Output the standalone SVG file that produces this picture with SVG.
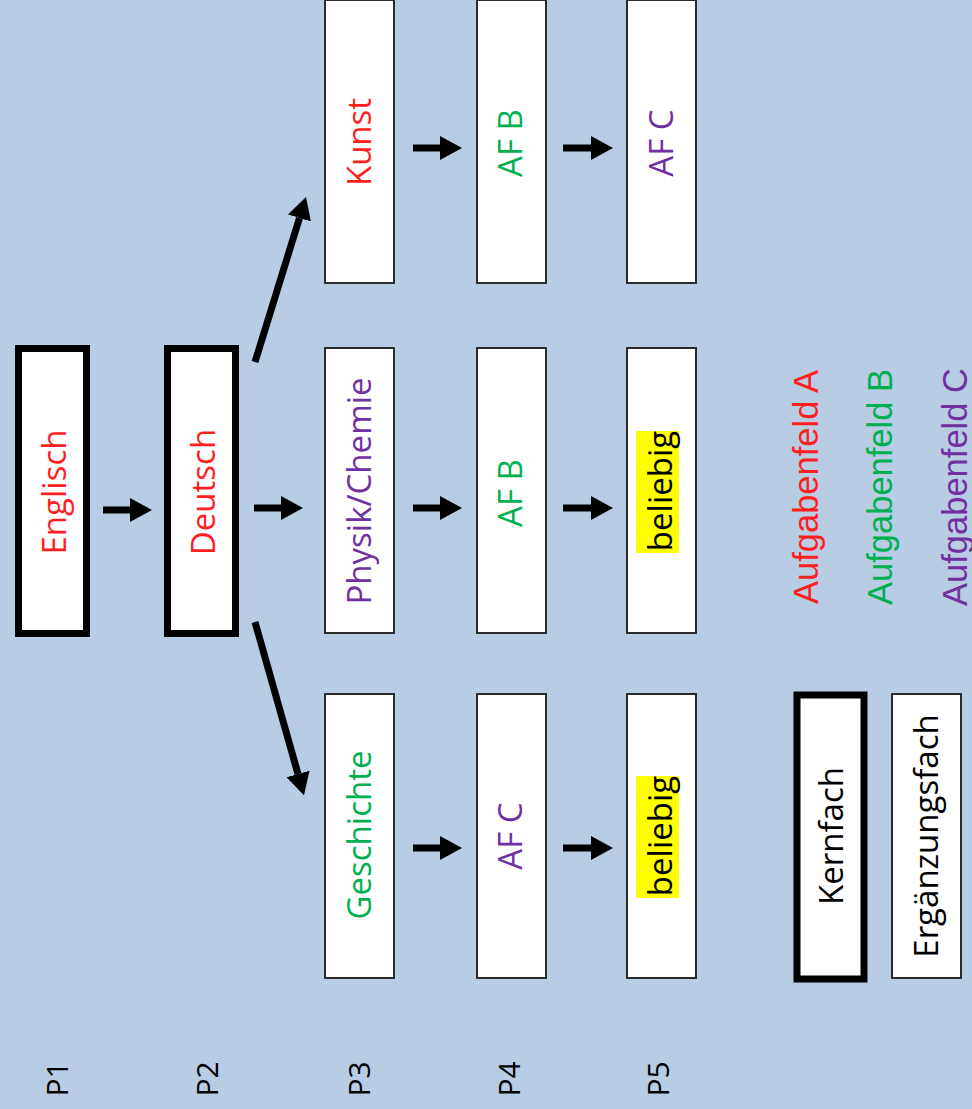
<svg xmlns="http://www.w3.org/2000/svg" width="972" height="1109" viewBox="0 0 972 1109">
<style>
.box{fill:#fff;stroke:#2b2b2b;stroke-width:2}
.kern{fill:#fff;stroke:#000;stroke-width:7}
.t{font-family:"Open Sans","Liberation Sans",sans-serif;font-size:33px;text-anchor:middle;dominant-baseline:central}
.p{font-size:30px}
.lg{font-family:"Liberation Sans",Arial,sans-serif;font-size:34.5px}
.red{fill:#ff1f1f}.grn{fill:#00b050}.pur{fill:#7030a0}.blk{fill:#000}
.conn line{stroke:#000;stroke-width:7;marker-end:url(#ah)}
.hl{fill:#ffff00}
</style>
<defs>
<marker id="ah" viewBox="0 0 22 24" refX="0" refY="12" markerWidth="22" markerHeight="24" markerUnits="userSpaceOnUse" orient="auto"><path d="M0,0 L22,12 L0,24 z" fill="#000"/></marker>
</defs>
<rect width="972" height="1109" fill="#b8cce4"/>
<g id="englisch"><rect class="kern" x="18.5" y="348.5" width="68" height="285"/><text class="t red" transform="translate(53,492) rotate(-90)">Englisch</text></g>
<g id="deutsch"><rect class="kern" x="167.5" y="348.5" width="68" height="285"/><text class="t red" transform="translate(202,492) rotate(-90)">Deutsch</text></g>
<g id="kunst"><rect class="box" x="325" y="0" width="69" height="283"/><text class="t red" transform="translate(358,142) rotate(-90)">Kunst</text></g>
<g id="physik"><rect class="box" x="325" y="348" width="69" height="285"/><text class="t pur" transform="translate(358,491) rotate(-90)">Physik/Chemie</text></g>
<g id="geschichte"><rect class="box" x="325" y="694" width="69" height="284"/><text class="t grn" transform="translate(358,835) rotate(-90)">Geschichte</text></g>
<g id="afb1"><rect class="box" x="477" y="0" width="69" height="283"/><text class="t grn" transform="translate(509,143) rotate(-90)">AF B</text></g>
<g id="afb2"><rect class="box" x="477" y="348" width="69" height="285"/><text class="t grn" transform="translate(509,493) rotate(-90)">AF B</text></g>
<g id="afc1"><rect class="box" x="477" y="694" width="69" height="284"/><text class="t pur" transform="translate(509,836) rotate(-90)">AF C</text></g>
<g id="afc2"><rect class="box" x="627" y="0" width="69" height="283"/><text class="t pur" transform="translate(660,143) rotate(-90)">AF C</text></g>
<g id="beliebig1"><rect class="box" x="627" y="348" width="69" height="285"/><rect class="hl" x="636" y="431" width="43" height="122"/><text class="t blk" transform="translate(659,491) rotate(-90)">beliebig</text></g>
<g id="beliebig2"><rect class="box" x="627" y="694" width="69" height="284"/><rect class="hl" x="636" y="776" width="43" height="122"/><text class="t blk" transform="translate(659,836) rotate(-90)">beliebig</text></g>
<g id="kernfach"><rect class="kern" x="797" y="695" width="67" height="284"/><text class="t blk" transform="translate(830,836) rotate(-90)">Kernfach</text></g>
<g id="ergaenzungsfach"><rect class="box" x="892" y="694" width="69" height="284"/><text class="t blk" transform="translate(925,836) rotate(-90)">Ergänzungsfach</text></g>
<g id="legend"><text class="t lg red" transform="translate(806,487) rotate(-90)">Aufgabenfeld A</text><text class="t lg grn" transform="translate(880,487) rotate(-90)">Aufgabenfeld B</text><text class="t lg pur" transform="translate(955,487) rotate(-90)">Aufgabenfeld C</text></g>
<g id="plabels"><text class="t p blk" transform="translate(56,1079) rotate(-90)">P1</text><text class="t p blk" transform="translate(206,1079) rotate(-90)">P2</text><text class="t p blk" transform="translate(358,1079) rotate(-90)">P3</text><text class="t p blk" transform="translate(508,1079) rotate(-90)">P4</text><text class="t p blk" transform="translate(657,1079) rotate(-90)">P5</text></g>
<g id="connectors" class="conn">
<line x1="103" y1="510" x2="130" y2="510"/>
<line x1="254" y1="508" x2="281" y2="508"/>
<line x1="255" y1="362" x2="299.5" y2="218"/>
<line x1="255" y1="622" x2="298" y2="774"/>
<line x1="413" y1="148" x2="440" y2="148"/>
<line x1="563" y1="148" x2="591" y2="148"/>
<line x1="413" y1="508" x2="440" y2="508"/>
<line x1="563" y1="508" x2="591" y2="508"/>
<line x1="413" y1="848" x2="440" y2="848"/>
<line x1="563" y1="848" x2="591" y2="848"/>
</g>
</svg>
